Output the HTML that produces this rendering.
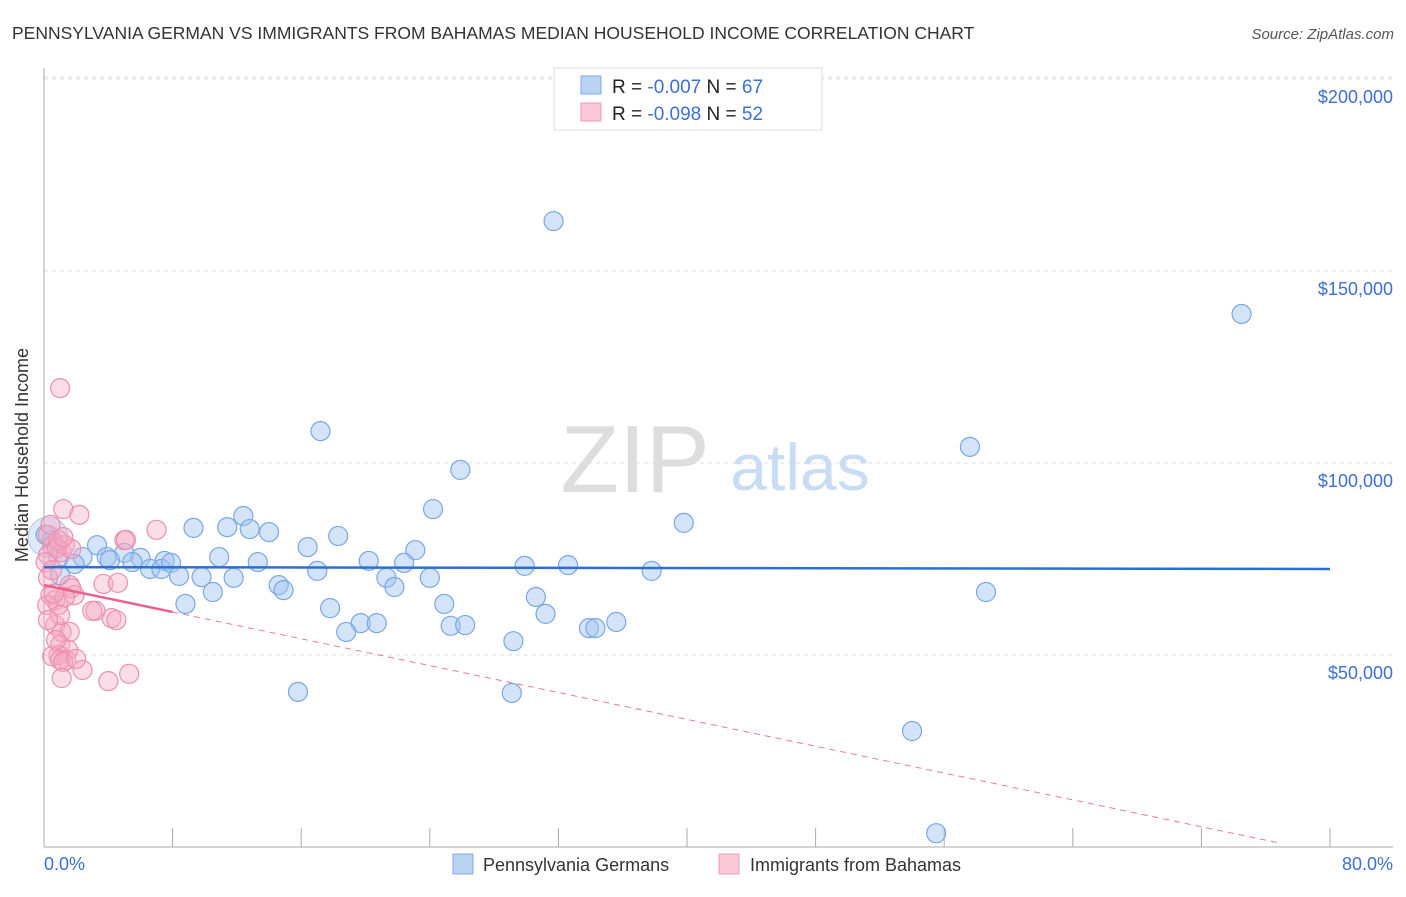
<!DOCTYPE html>
<html><head><meta charset="utf-8"><style>
body{margin:0;background:#fff;font-family:"Liberation Sans",sans-serif;}
svg text{font-family:"Liberation Sans",sans-serif;}
</style></head><body>
<svg width="1406" height="892" viewBox="0 0 1406 892">
<text x="12" y="39" font-size="17.5" fill="#333">PENNSYLVANIA GERMAN VS IMMIGRANTS FROM BAHAMAS MEDIAN HOUSEHOLD INCOME CORRELATION CHART</text>
<text x="1394" y="39" font-size="15" fill="#555" font-style="italic" text-anchor="end">Source: ZipAtlas.com</text>
<g id="grid"></g>
<g><text x="635" y="492" font-size="96" fill="#ddd" font-family="Liberation Serif" text-anchor="middle">ZIP</text><text x="800" y="490" font-size="66" fill="#c8dcf3" text-anchor="middle">atlas</text></g>
<g id="axes"></g>
<g id="pts"></g>
<g id="trend"></g>
<text x="28" y="455" font-size="18" fill="#333" text-anchor="middle" transform="rotate(-90 28 455)">Median Household Income</text>
<text x="44" y="870" font-size="18" fill="#3d70d0">0.0%</text>
<text x="1393" y="870" font-size="18" fill="#3d70d0" text-anchor="end">80.0%</text>
<g>
<rect x="554" y="68" width="268" height="62" fill="#fff" stroke="#ddd"/>
<rect x="581" y="76" width="20" height="18" fill="#b9d3f5" stroke="#7ea9e6"/>
<rect x="581" y="103" width="20" height="18" fill="#fbc8d7" stroke="#ee9db7"/>
<text x="612" y="93" font-size="19" fill="#222">R = <tspan fill="#3d70d0">-0.007</tspan>   N = <tspan fill="#3d70d0">67</tspan></text>
<text x="612" y="120" font-size="19" fill="#222">R = <tspan fill="#3d70d0">-0.098</tspan>   N = <tspan fill="#3d70d0">52</tspan></text>
</g>
<g>
<rect x="453" y="854" width="20" height="20" fill="#b9d3f5" stroke="#7ea9e6"/>
<text x="483" y="871" font-size="18" fill="#333">Pennsylvania Germans</text>
<rect x="719" y="854" width="20" height="20" fill="#fbc8d7" stroke="#ee9db7"/>
<text x="750" y="871" font-size="18" fill="#333">Immigrants from Bahamas</text>
</g>
</svg>
<script>
const yTicks=[50000,100000,150000,200000];
const yTickLabels=["$50,000","$100,000","$150,000","$200,000"];
const xTicks=[0,8,16,24,32,40,48,56,64,72,80];
const blueX=[31.7,74.5,17.2,57.6,25.9,24.2,39.8,12.4,9.3,11.4,12.8,14.0,18.3,16.4,23.1,3.3,5.0,2.4,3.9,6.0,7.5,10.9,13.3,20.2,22.4,32.6,29.9,1.9,0.9,0.5,0.1,6.6,7.3,7.9,8.4,9.8,11.8,17.0,21.3,24.0,37.8,14.6,14.9,21.8,10.5,8.8,17.8,24.9,30.6,31.2,58.6,19.7,20.7,18.8,25.3,26.2,35.6,33.9,34.3,29.2,15.8,29.1,54.0,55.5,1.0,4.1,5.5];
const blueY=[163.0,138.8,108.3,104.2,98.2,88.0,84.4,86.2,83.1,83.3,82.8,82.0,81.0,78.1,77.3,78.6,76.6,75.5,75.5,75.3,74.5,75.5,74.2,74.5,74.0,73.4,73.2,73.7,75.3,79.9,81.3,72.4,72.4,74.0,70.6,70.3,70.1,71.9,70.1,70.1,71.9,68.2,66.9,67.7,66.4,63.3,62.2,63.3,65.1,60.7,66.4,58.3,58.3,56.0,57.6,57.8,58.6,57.0,57.0,53.6,40.4,40.1,30.2,3.6,70.8,74.7,74.2];
const pinkX=[1.0,1.2,2.2,7.0,5.0,0.25,0.5,1.1,1.3,0.25,0.1,1.7,0.4,0.9,0.25,1.6,3.7,4.6,0.4,0.7,0.2,0.9,3.2,3.0,4.2,4.5,0.7,1.1,1.6,1.0,1.5,0.9,0.5,1.4,1.0,1.2,2.4,1.1,4.0,5.3,1.9,1.7,1.0,0.25,0.75,1.3,0.5,0.8,1.2,5.1,0.6,2.0];
const pinkY=[119.5,88.0,86.5,82.6,79.9,81.3,78.4,76.8,78.6,76.0,74.2,77.6,83.9,79.9,70.1,68.2,68.5,68.8,65.6,64.3,63.0,63.0,61.5,61.5,59.6,59.1,57.8,56.0,56.0,52.6,51.3,50.0,49.7,48.7,48.7,48.2,46.1,44.0,43.2,45.1,65.6,67.4,60.4,59.1,53.9,65.1,72.1,77.9,80.7,80.0,66.0,49.0];
const blueTrend=[72.9,72.4];
const pinkTrend=[68.2,-0.874];
const NS="http://www.w3.org/2000/svg";
const X=v=>44+v*(1286/80);
const Y=v=>847-v*(768/200000);
function mk(p,t,a){const e=document.createElementNS(NS,t);for(const k in a)e.setAttribute(k,a[k]);p.appendChild(e);return e;}
const grid=document.getElementById('grid'),axes=document.getElementById('axes'),pts=document.getElementById('pts'),tr=document.getElementById('trend');
yTicks.forEach((t,i)=>{
 const l=mk(grid,'line',{x1:44,x2:1393,y1:Y(t),y2:Y(t),stroke:'#ddd','stroke-dasharray':'4,4'});
 
 
 const tx=mk(axes,'text',{x:1393,y:Y(t)+24,'font-size':18,fill:'#3d70d0','text-anchor':'end'});
 tx.textContent=yTickLabels[i];
 
 
});
mk(grid,'line',{x1:44,x2:1393,y1:Y(200000)-2,y2:Y(200000)-2,stroke:'#ddd','stroke-dasharray':'4,4'});
const ya=mk(axes,'line',{x1:44,x2:44,y1:68,y2:847,stroke:'#aaa'});


const xa=mk(axes,'line',{x1:44,x2:1393,y1:847,y2:847,stroke:'#aaa'});


xTicks.forEach(t=>{
 const l=mk(axes,'line',{x1:X(t),x2:X(t),y1:828,y2:847,stroke:'#aaa'});
 
 
});
const big=mk(pts,'circle',{cx:X(0.25),cy:Y(80700),r:20,fill:'rgba(147,186,236,0.3)',stroke:'rgba(109,159,224,0.5)'});


blueX.forEach((x,i)=>{
 const c=mk(pts,'circle',{cx:X(x),cy:Y(blueY[i]*1000),r:9.5,fill:'rgba(160,195,240,0.45)',stroke:'#7aa6e3','stroke-width':1.2});
 
 
});
pinkX.forEach((x,i)=>{
 const c=mk(pts,'circle',{cx:X(x),cy:Y(pinkY[i]*1000),r:9.5,fill:'rgba(246,170,195,0.4)',stroke:'#ec8fb0','stroke-width':1.2});
 
 
});
const bl=mk(tr,'line',{x1:X(0),x2:X(80),y1:Y(blueTrend[0]*1000),y2:Y(blueTrend[1]*1000),stroke:'#2b6fd6','stroke-width':2.5});


const pf=x=>Y((pinkTrend[0]+pinkTrend[1]*x)*1000);
const ps=mk(tr,'line',{x1:X(0),x2:X(8),y1:pf(0),y2:pf(8),stroke:'#e8638c','stroke-width':2.5});


const pd=mk(tr,'line',{x1:X(8),x2:X(76.9),y1:pf(8),y2:pf(76.9),stroke:'#e8799d','stroke-width':1,'stroke-dasharray':'6,5'});


</script>
</body></html>
